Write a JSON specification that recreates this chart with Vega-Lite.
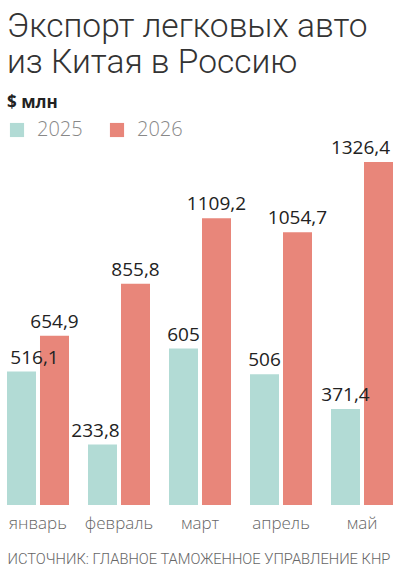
{
  "$schema": "https://vega.github.io/schema/vega-lite/v6.json",
  "width": 400,
  "height": 355,
  "autosize": {"type": "none"},
  "padding": {"left": 0, "right": 1, "top": 150, "bottom": 70},
  "background": "white",
  "config": {
    "view": {"stroke": null},
    "locale": {"number": {"decimal": ",", "thousands": " ", "grouping": [3], "currency": ["", ""]}}
  },
  "title": {
    "text": ["Экспорт легковых авто", "из Китая в Россию"],
    "subtitle": "$ млн",
    "anchor": "start",
    "frame": "group",
    "font": "Roboto",
    "fontWeight": 300,
    "fontSize": 33.5,
    "lineHeight": 36,
    "color": "#333333",
    "subtitleFont": "Open Sans",
    "subtitleFontWeight": "bold",
    "subtitleFontSize": 17,
    "subtitleColor": "#222222",
    "subtitlePadding": 15,
    "offset": 8,
    "dx": 7
  },
  "data": {
    "values": [
      {"month": "январь", "year": "2025", "value": 516.1},
      {"month": "январь", "year": "2026", "value": 654.9},
      {"month": "февраль", "year": "2025", "value": 233.8},
      {"month": "февраль", "year": "2026", "value": 855.8},
      {"month": "март", "year": "2025", "value": 605},
      {"month": "март", "year": "2026", "value": 1109.2},
      {"month": "апрель", "year": "2025", "value": 506},
      {"month": "апрель", "year": "2026", "value": 1054.7},
      {"month": "май", "year": "2025", "value": 371.4},
      {"month": "май", "year": "2026", "value": 1326.4}
    ]
  },
  "encoding": {
    "x": {
      "field": "month",
      "type": "nominal",
      "sort": ["январь", "февраль", "март", "апрель", "май"],
      "scale": {"paddingInner": 0.2346, "paddingOuter": 0.0864},
      "axis": {
        "title": "ИСТОЧНИК: ГЛАВНОЕ ТАМОЖЕННОЕ УПРАВЛЕНИЕ КНР",
        "domain": false,
        "ticks": false,
        "labelAngle": 0,
        "labelFont": "Open Sans",
        "labelFontWeight": 300,
        "labelFontSize": 17,
        "labelColor": "#666666",
        "labelPadding": 10,
        "titleFont": "Roboto",
        "titleFontWeight": 300,
        "titleFontSize": 14.7,
        "titleColor": "#666666",
        "titleAnchor": "start",
        "titleAlign": "left",
        "titleX": 7,
        "titleY": 58,
        "titleBaseline": "alphabetic"
      }
    },
    "xOffset": {
      "field": "year",
      "type": "nominal",
      "scale": {"paddingInner": 0.121, "paddingOuter": 0}
    },
    "y": {
      "field": "value",
      "type": "quantitative",
      "scale": {"domain": [0, 1373], "nice": false},
      "axis": null
    }
  },
  "layer": [
    {
      "mark": {"type": "bar"},
      "encoding": {
        "color": {
          "field": "year",
          "type": "nominal",
          "scale": {"domain": ["2025", "2026"], "range": ["#b2dbd5", "#e8867a"]},
          "legend": {
            "orient": "none",
            "legendX": 7,
            "legendY": -30,
            "direction": "horizontal",
            "title": null,
            "symbolType": "square",
            "symbolSize": 200,
            "symbolStrokeWidth": 0,
            "symbolOpacity": 1,
            "labelFont": "Open Sans",
            "labelFontWeight": 300,
            "labelFontSize": 20,
            "labelColor": "#888888",
            "labelOffset": 10,
            "columnPadding": 24
          }
        }
      }
    },
    {
      "mark": {
        "type": "text",
        "baseline": "alphabetic",
        "dy": -8,
        "dx": {"expr": "datum.month == 'январь' && datum.year == '2025' ? 13 : (datum.month == 'февраль' && datum.year == '2025' ? -7 : (datum.month == 'май' && datum.year == '2026' ? -18 : 0))"},
        "font": "Open Sans",
        "fontSize": 19,
        "color": "#222222"
      },
      "encoding": {
        "text": {"field": "value", "type": "quantitative", "format": ".1~f"}
      }
    }
  ]
}
